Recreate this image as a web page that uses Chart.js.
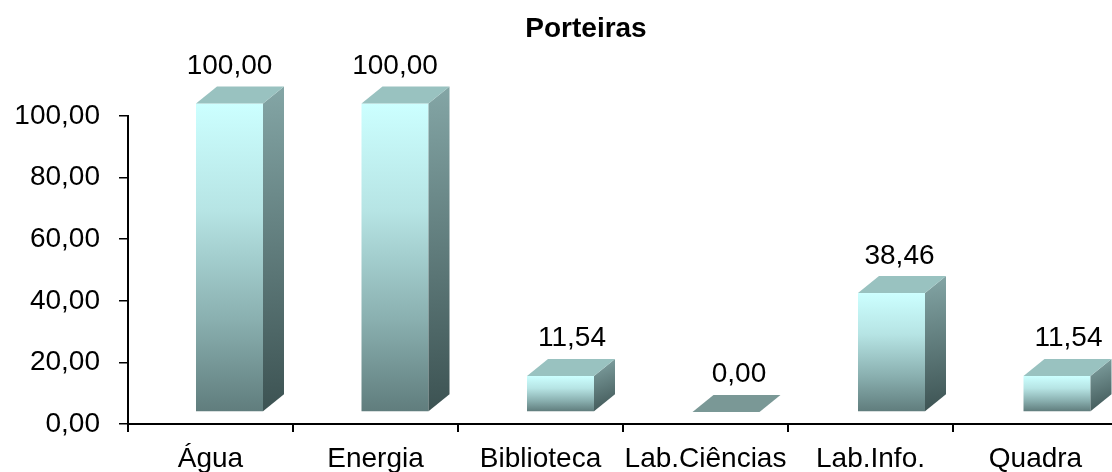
<!DOCTYPE html>
<html>
<head>
<meta charset="utf-8">
<script src="https://cdn.jsdelivr.net/npm/chart.js@4"></script>
<style>
html,body{margin:0;padding:0;overflow:hidden;background:#fff;}
#wrap{width:1112px;height:472px;overflow:hidden;}
canvas{display:block;}
</style>
</head>
<body>
<div id="wrap"><canvas id="c" width="1118" height="472"></canvas></div>
<script>
const chartTitle = 'Porteiras';
const categories = ['Água', 'Energia', 'Biblioteca', 'Lab.Ciências', 'Lab.Info.', 'Quadra'];
const values = [100.00, 100.00, 11.54, 0.00, 38.46, 11.54];
const yTickValues = [0, 20, 40, 60, 80, 100];
const yTickLabels = ['0,00', '20,00', '40,00', '60,00', '80,00', '100,00'];

const FONT = '"Liberation Sans", Arial, sans-serif';
const fmt = v => v.toFixed(2).replace('.', ',');

const DX = 21, DY = 17, SHIFT = 19, LIFT_TOP = 12.5, LIFT_BASE = 12;

const bars3d = {
  id: 'bars3d',
  afterDatasetsDraw(chart) {
    const ctx = chart.ctx;
    const meta = chart.getDatasetMeta(0);
    meta.data.forEach((el, i) => {
      const v = values[i];
      const w = el.width;
      const L = el.x - w / 2 + SHIFT + i * 0.5;
      const R = L + w;
      const B = el.base - LIFT_BASE;
      const T = v === 0 ? B : el.y - LIFT_TOP;
      ctx.save();
      if (v > 0) {
        const g = ctx.createLinearGradient(0, T, 0, B);
        g.addColorStop(0, 'rgb(204,255,255)');
        g.addColorStop(0.35, 'rgb(182,228,228)');
        g.addColorStop(0.7, 'rgb(138,176,176)');
        g.addColorStop(1, 'rgb(96,125,125)');
        ctx.fillStyle = g;
        ctx.fillRect(L, T, w, B - T);
        const gs = ctx.createLinearGradient(R, T - DY, R + DX, B);
        gs.addColorStop(0, 'rgb(132,166,166)');
        gs.addColorStop(1, 'rgb(60,82,82)');
        ctx.fillStyle = gs;
        ctx.beginPath();
        ctx.moveTo(R, T);
        ctx.lineTo(R + DX, T - DY);
        ctx.lineTo(R + DX, B - DY);
        ctx.lineTo(R, B);
        ctx.closePath();
        ctx.fill();
      }
      ctx.fillStyle = v > 0 ? 'rgb(153,194,192)' : 'rgb(122,152,150)';
      ctx.beginPath();
      ctx.moveTo(L, T);
      ctx.lineTo(R, T);
      ctx.lineTo(R + DX, T - DY);
      ctx.lineTo(L + DX, T - DY);
      ctx.closePath();
      ctx.fill();
      ctx.fillStyle = '#000';
      ctx.font = '28px ' + FONT;
      ctx.textAlign = 'center';
      ctx.textBaseline = 'alphabetic';
      const lx = L + w / 2 + 13 * (1 - v / 100);
      ctx.fillText(fmt(v), lx, el.y - 42);
      ctx.restore();
    });
    ctx.save();
    ctx.fillStyle = '#000';
    ctx.font = 'bold 28px ' + FONT;
    ctx.textAlign = 'center';
    ctx.textBaseline = 'alphabetic';
    ctx.fillText(chartTitle, 586, 37);
    ctx.restore();
  }
};

new Chart(document.getElementById('c'), {
  type: 'bar',
  data: {
    labels: categories,
    datasets: [{
      data: values,
      backgroundColor: 'rgba(0,0,0,0)',
      borderWidth: 0,
      barPercentage: 67 / 165,
      categoryPercentage: 1
    }]
  },
  options: {
    responsive: false,
    animation: false,
    layout: { padding: { top: 116, left: 0, right: 0, bottom: 0 } },
    plugins: { legend: { display: false }, title: { display: false }, tooltip: { enabled: false } },
    scales: {
      x: {
        afterFit(s) { s.height = 48; },
        grid: { display: true, drawOnChartArea: false, drawTicks: true, tickLength: 8, color: '#000', lineWidth: 2, offset: true },
        border: { display: true, color: '#000', width: 2 },
        ticks: { color: '#000', font: { family: FONT, size: 28 }, padding: 10, maxRotation: 0, autoSkip: false }
      },
      y: {
        min: 0, max: 100,
        afterFit(s) { s.width = 128; },
        afterBuildTicks(s) { s.ticks = yTickValues.map(v => ({ value: v })); },
        grid: { display: true, drawOnChartArea: false, drawTicks: true, tickLength: 9, color: '#000', lineWidth: 1.5 },
        border: { display: true, color: '#000', width: 2 },
        ticks: {
          color: '#000', font: { family: FONT, size: 28 }, padding: 19,
          callback: (v, i) => yTickLabels[yTickValues.indexOf(v)]
        }
      }
    }
  },
  plugins: [bars3d]
});
</script>
</body>
</html>
